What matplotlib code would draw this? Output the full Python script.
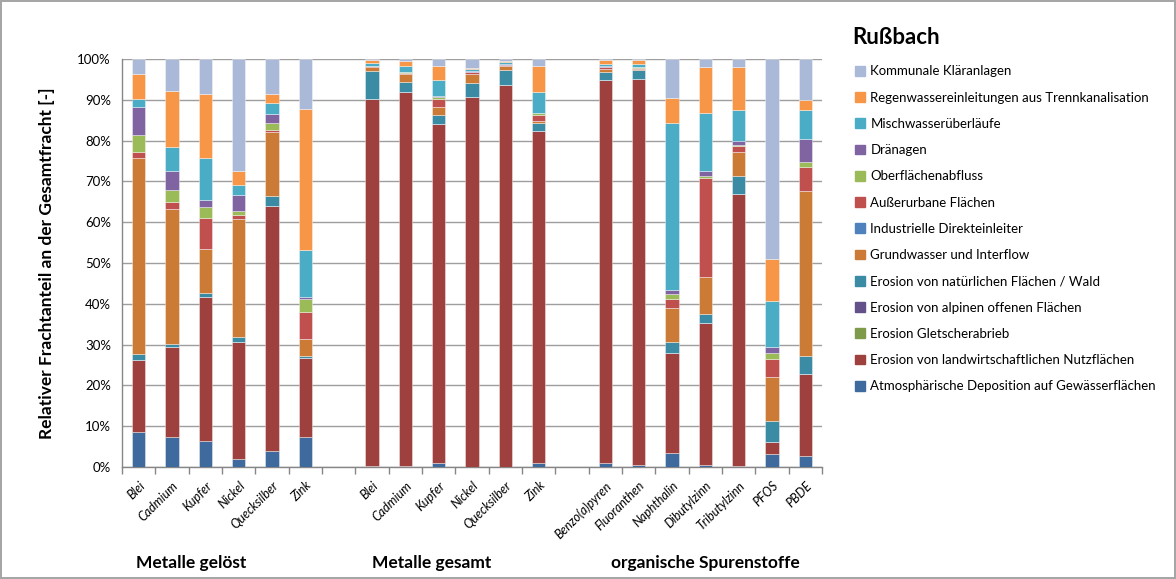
import numpy as np
import matplotlib
matplotlib.use('Agg')
import matplotlib.pyplot as plt
from matplotlib.patches import Patch

plt.rcParams['font.family'] = ['Lato', 'DejaVu Sans']

# Kategorien je Gruppe
gruppen = ['Metalle gelöst', 'Metalle gesamt', 'organische Spurenstoffe']
kat_geloest = ['Blei', 'Cadmium', 'Kupfer', 'Nickel', 'Quecksilber', 'Zink']
kat_gesamt = ['Blei', 'Cadmium', 'Kupfer', 'Nickel', 'Quecksilber', 'Zink']
kat_organisch = ['Benzo(a)pyren', 'Fluoranthen', 'Naphthalin', 'Dibutylzinn',
                 'Tributylzinn', 'PFOS', 'PBDE']

# Anteile in % (von unten nach oben gestapelt)
atmos = [8.7, 7.3, 6.4, 1.9, 3.8, 7.4, 0.2, 0.3, 1.1, 0.1, 0.1, 0.9, 0.9, 0.4, 3.4, 0.5, 0.3, 3.1, 2.7]
landw = [17.6, 22.2, 35.4, 28.8, 60.2, 19.4, 89.7, 91.7, 82.8, 90.7, 93.8, 81.5, 94.1, 94.9, 24.5, 34.7, 66.8, 3.1, 20.0]
gletscher = [0.0] * 19
alpin = [0.0] * 19
wald = [1.4, 0.6, 1.0, 1.1, 2.3, 0.5, 6.9, 2.6, 2.2, 3.5, 3.6, 2.0, 2.0, 2.2, 2.8, 2.3, 4.4, 5.1, 4.5]
grundwasser = [48.0, 33.2, 10.6, 29.1, 15.8, 4.1, 1.1, 1.9, 2.0, 2.2, 1.1, 0.6, 0.7, 0.2, 8.2, 9.1, 5.9, 10.7, 40.4]
industrie = [0.0] * 19
ausserurban = [1.4, 1.6, 7.8, 1.0, 0.6, 6.6, 0.1, 0.3, 2.0, 0.3, 0.1, 1.3, 0.4, 0.4, 2.2, 24.3, 1.4, 4.5, 5.9]
oberflaeche = [4.3, 3.0, 2.6, 0.8, 1.6, 3.1, 0.1, 0.1, 0.5, 0.1, 0.1, 0.5, 0.1, 0.1, 1.3, 0.4, 0.2, 1.4, 1.2]
draenagen = [6.9, 4.7, 1.6, 4.1, 2.3, 0.5, 0.1, 0.1, 0.2, 0.3, 0.1, 0.1, 0.1, 0.1, 1.1, 1.2, 1.0, 1.5, 5.8]
mischwasser = [1.9, 5.9, 10.3, 2.4, 2.5, 11.5, 0.5, 1.5, 4.0, 0.5, 0.5, 5.0, 0.6, 0.6, 40.7, 14.3, 7.6, 11.4, 7.0]
regenwasser = [6.2, 13.7, 15.9, 3.5, 2.4, 34.5, 0.8, 1.2, 3.5, 0.3, 0.3, 6.6, 1.0, 1.0, 6.3, 11.2, 10.7, 10.3, 2.5]
kommunal = [3.6, 7.8, 8.5, 27.4, 8.5, 12.3, 0.3, 0.5, 1.6, 2.1, 0.5, 1.6, 0.2, 0.3, 9.5, 2.0, 1.9, 48.9, 10.0]

serien = [
    ('Atmosphärische Deposition auf Gewässerflächen', atmos, '#3F6A9E'),
    ('Erosion von landwirtschaftlichen Nutzflächen', landw, '#9E413E'),
    ('Erosion Gletscherabrieb', gletscher, '#7E9B49'),
    ('Erosion von alpinen offenen Flächen', alpin, '#65518A'),
    ('Erosion von natürlichen Flächen / Wald', wald, '#3A8BA3'),
    ('Grundwasser und Interflow', grundwasser, '#CC7B37'),
    ('Industrielle Direkteinleiter', industrie, '#4F81BD'),
    ('Außerurbane Flächen', ausserurban, '#C0504D'),
    ('Oberflächenabfluss', oberflaeche, '#9BBB59'),
    ('Dränagen', draenagen, '#8064A2'),
    ('Mischwasserüberläufe', mischwasser, '#4BACC6'),
    ('Regenwassereinleitungen aus Trennkanalisation', regenwasser, '#F79646'),
    ('Kommunale Kläranlagen', kommunal, '#AAB9D7'),
]

# x-Positionen mit je einer Lücke zwischen den Gruppen
pos = []
labels = []
start = 0
for kats in [kat_geloest, kat_gesamt, kat_organisch]:
    pos += list(range(start, start + len(kats)))
    labels += kats
    start += len(kats) + 1
pos = np.array(pos)
n_slots = start - 1

# 100%-Stapel wie in Excel
werte = np.array([s[1] for s in serien], dtype=float)
werte = werte / werte.sum(axis=0)

fig = plt.figure(figsize=(11.76, 5.79), dpi=100)
fig.patch.set_edgecolor('#A6A6A6')
fig.patch.set_linewidth(1.5)
ax = fig.add_axes([122 / 1176, 1 - 467 / 579, 700 / 1176, 408 / 579])

unten = np.zeros(len(pos))
for (name, _, farbe), w in zip(serien, werte):
    ax.bar(pos, w, bottom=unten, width=0.4, color=farbe, label=name,
           edgecolor=(1, 1, 1, 0.45), linewidth=0.6, zorder=3)
    unten += w

ax.set_xlim(-0.5, n_slots - 0.5)
ax.set_ylim(0, 1)
ax.set_yticks(np.arange(0, 1.01, 0.1))
ax.set_yticklabels([f'{int(round(v * 100))}%' for v in np.arange(0, 1.01, 0.1)], fontsize=9.5)
ax.yaxis.grid(True, color='#9E9E9E', linewidth=1.0, zorder=0)
ax.tick_params(axis='y', length=0, pad=8)

ax.set_xticks(pos)
ax.set_xticklabels(labels, rotation=45, ha='right', va='top', rotation_mode='anchor',
                   fontsize=9, style='italic')
ax.set_xticks(np.arange(-0.5, n_slots, 1.0), minor=True)
ax.tick_params(axis='x', which='major', length=0, pad=9)
ax.tick_params(axis='x', which='minor', length=5, color='#868686', width=1)

for s in ['top', 'right']:
    ax.spines[s].set_visible(False)
for s in ['left', 'bottom']:
    ax.spines[s].set_color('#868686')
    ax.spines[s].set_linewidth(1)

ax.set_ylabel('Relativer Frachtanteil an der Gesamtfracht [-]', fontsize=12.5,
              fontweight='bold', labelpad=16)

# Gruppenbeschriftung
for name, x in zip(gruppen, [191, 432, 705]):
    fig.text(x / 1176, 1 - 563 / 579, name, ha='center', va='center',
             fontsize=12.5, fontweight='bold')

# Legende
fig.text(852 / 1176, 1 - 37 / 579, 'Rußbach', ha='left', va='center',
         fontsize=16, fontweight='bold')
handles = [Patch(color=f, label=n) for n, _, f in serien][::-1]
fig.legend(handles=handles, loc='upper left', bbox_to_anchor=(850 / 1176, 1 - 60 / 579),
           frameon=False, fontsize=9.5, handlelength=0.75, handleheight=0.75,
           handletextpad=0.4, labelspacing=1.08, borderaxespad=0)

fig.savefig('out.png', dpi=100, edgecolor=fig.get_edgecolor())
